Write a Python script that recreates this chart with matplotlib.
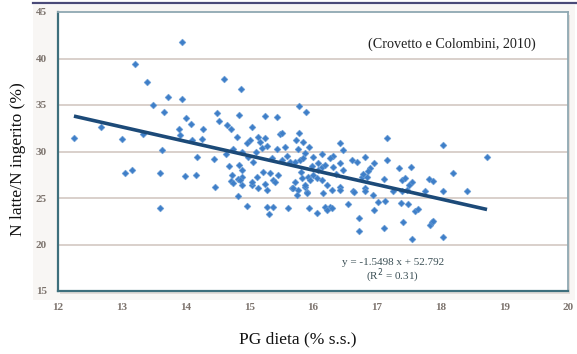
import matplotlib.pyplot as plt
from matplotlib.patches import Rectangle
from matplotlib.lines import Line2D

# PG dieta (% s.s.) e N latte/N ingerito (%)
pg_dieta = [
    12.25, 12.67, 13.00, 13.05, 13.16, 13.20, 13.33, 13.40, 13.49, 13.63,
    13.60, 13.60, 13.66, 13.73, 13.95, 13.95, 14.00, 14.08, 13.90, 13.92,
    14.10, 13.99, 14.16, 14.18, 14.26, 14.28, 14.45, 14.47, 14.50, 14.52,
    14.60, 14.65, 14.71, 14.63, 14.69, 14.74, 14.80, 14.84, 14.87, 14.72,
    14.82, 14.89, 14.82, 14.89, 14.96, 15.04, 15.04, 15.25, 15.44, 15.01,
    15.14, 15.25, 14.96, 15.17, 15.28, 15.20, 15.48, 15.78, 15.89, 15.78,
    15.73, 15.84, 15.94, 15.56, 15.44, 16.42, 16.47, 16.14, 16.31, 16.61,
    16.69, 16.82, 17.16, 17.16, 16.96, 17.35, 17.54, 18.04, 18.20, 18.73,
    16.14, 16.31, 16.42, 16.47, 15.98, 16.08, 15.81, 16.36, 16.89, 16.86,
    16.77, 16.85, 16.78, 17.11, 17.40, 17.44, 17.55, 17.50, 17.82, 17.88,
    16.30, 16.42, 16.42, 16.63, 16.65, 16.82, 16.82, 16.94, 17.25, 17.40,
    17.47, 17.76, 18.04, 18.42, 16.27, 16.55, 16.96, 17.02, 17.13, 17.38,
    17.49, 17.60, 17.65, 16.72, 16.72, 17.11, 17.41, 17.84, 17.87, 17.88,
    17.55, 18.04, 14.73, 14.84, 14.89, 14.75, 14.86, 15.04, 15.12, 15.14,
    15.22, 15.25, 15.28, 15.33, 15.37, 15.40, 15.45, 15.28, 15.37, 15.31,
    15.60, 15.72, 15.77, 15.83, 15.87, 15.90, 15.67, 15.92, 15.95, 16.00,
    16.06, 15.94, 16.06, 16.19, 16.22, 16.30, 16.14, 16.22, 16.16, 15.76,
    15.51, 15.64, 15.72, 15.80, 15.84, 16.08, 16.19, 16.27, 14.89, 14.98,
    15.06, 15.36, 15.10, 15.51, 15.59, 15.87, 16.00, 15.69, 15.75, 15.87,
    15.90,
]
n_ratio = [
    31.5, 32.6, 31.3, 27.7, 28.0, 39.4, 31.9, 37.5, 35.0, 30.2,
    27.7, 23.9, 34.3, 35.9, 35.6, 41.8, 33.6, 33.0, 32.4, 31.8,
    31.2, 27.4, 27.5, 29.4, 31.3, 32.4, 29.2, 26.2, 34.1, 33.3,
    37.8, 32.8, 32.4, 29.7, 28.4, 30.3, 31.6, 33.9, 36.7, 26.8,
    27.0, 27.3, 25.2, 26.4, 24.1, 26.4, 32.6, 33.8, 33.7, 31.2,
    31.6, 31.5, 30.9, 31.0, 30.6, 30.4, 31.9, 34.9, 34.2, 32.0,
    31.2, 31.0, 30.5, 30.5, 30.3, 30.9, 30.2, 29.7, 29.5, 29.1,
    28.9, 29.4, 31.4, 29.1, 28.8, 28.2, 28.3, 30.7, 27.7, 29.4,
    28.3, 28.3, 28.8, 28.0, 28.4, 28.0, 27.8, 27.6, 28.2, 27.9,
    27.3, 27.3, 27.6, 27.0, 26.9, 27.2, 26.7, 26.4, 27.0, 26.8,
    25.9, 26.2, 25.9, 25.8, 25.6, 26.1, 25.7, 25.3, 25.7, 25.8,
    25.9, 25.8, 25.8, 25.8, 24.0, 24.4, 23.7, 24.6, 24.7, 24.5,
    24.4, 23.6, 23.8, 22.8, 21.5, 21.8, 22.4, 22.1, 22.4, 22.5,
    20.6, 20.8, 27.5, 28.5, 28.0, 26.6, 26.9, 26.7, 27.3, 26.1,
    27.8, 26.5, 25.9, 27.7, 26.9, 26.7, 27.5, 24.0, 24.0, 23.3,
    23.9, 26.7, 25.9, 27.2, 26.2, 25.6, 26.1, 27.3, 26.9, 27.5,
    27.2, 23.9, 23.4, 24.0, 23.7, 23.9, 26.9, 26.4, 25.5, 30.3,
    29.1, 28.9, 28.9, 29.1, 29.3, 28.8, 28.5, 29.3, 30.0, 29.4,
    28.9, 29.3, 30.0, 32.0, 29.5, 29.8, 29.4, 26.1, 25.3, 26.4,
    25.5,
]

slope = -1.5498
intercept = 52.792
fit_x = [min(pg_dieta), max(pg_dieta)]
fit_y = [slope * v + intercept for v in fit_x]

x_ticks = [12, 13, 14, 15, 16, 17, 18, 19, 20]
y_ticks = [15, 20, 25, 30, 35, 40, 45]

plt.rcParams['font.family'] = ['Liberation Serif', 'DejaVu Serif']

fig = plt.figure(figsize=(5.77, 3.54), dpi=100)
fig.patch.set_facecolor('white')

# sfondo leggermente grigio dell'area grafico e barra in alto
fig.patches.append(Rectangle((33 / 577, 1 - 300 / 354), (575 - 33) / 577, (300 - 5) / 354,
                             transform=fig.transFigure, facecolor='#f8f6f4',
                             edgecolor='none', zorder=-2))
# ombra del riquadro
fig.patches.append(Rectangle((60 / 577, 1 - 294 / 354), (568 - 58) / 577, (291 - 12) / 354,
                             transform=fig.transFigure, facecolor='#e2dcd8',
                             edgecolor='none', zorder=-1))
fig.lines.append(Line2D([33 / 577, 1.0], [1 - 2.5 / 354, 1 - 2.5 / 354],
                        transform=fig.transFigure, color='#4a4a78', lw=1.6))

ax = fig.add_axes([58 / 577, 1 - 291 / 354, (568 - 58) / 577, (291 - 12) / 354])
ax.set_facecolor('white')

for y in y_ticks[1:-1]:
    ax.axhline(y, color='#cfc4bd', lw=1.1, zorder=1)

ax.scatter(pg_dieta, n_ratio, marker='D', s=12, color='#3f7fc8',
           edgecolors='#6a9dd6', linewidths=0.4, zorder=3)
ax.plot(fit_x, fit_y, color='#1c4a78', lw=2.6, solid_capstyle='butt', zorder=4)

ax.set_xlim(12, 20)
ax.set_ylim(15, 45)
ax.set_xticks(x_ticks)
ax.set_yticks(y_ticks)
ax.tick_params(length=0, labelsize=8, labelcolor='#7d746e')
ax.tick_params(axis='x', pad=9)
ax.tick_params(axis='y', pad=8)
for lab in ax.get_xticklabels() + ax.get_yticklabels():
    lab.set_fontweight('bold')

for side in ['left', 'bottom']:
    ax.spines[side].set_color('#3e6f7c')
    ax.spines[side].set_linewidth(1.6)
for side in ['top', 'right']:
    ax.spines[side].set_color('#8fa8b2')
    ax.spines[side].set_linewidth(1.3)

ax.text(0.772, 0.885, '(Crovetto e Colombini, 2010)', transform=ax.transAxes,
        ha='center', va='center', fontsize=10.2, color='#222222')
ax.text(17.25, 18.1, 'y = -1.5498 x + 52.792', ha='center', va='center',
        fontsize=8, color='#3b4f55')
ax.text(17.25, 16.6, '(R$^2$ = 0.31)', ha='center', va='center',
        fontsize=8, color='#3b4f55')

fig.text(18 / 577, 1 - 159 / 354, 'N latte/N ingerito (%)', rotation=90,
         ha='center', va='center', fontsize=12.5, color='#111111')
fig.text(298 / 577, 1 - 339 / 354, 'PG dieta (% s.s.)', ha='center', va='center',
         fontsize=12.5, color='#111111')

fig.savefig('out.png', dpi=100)
